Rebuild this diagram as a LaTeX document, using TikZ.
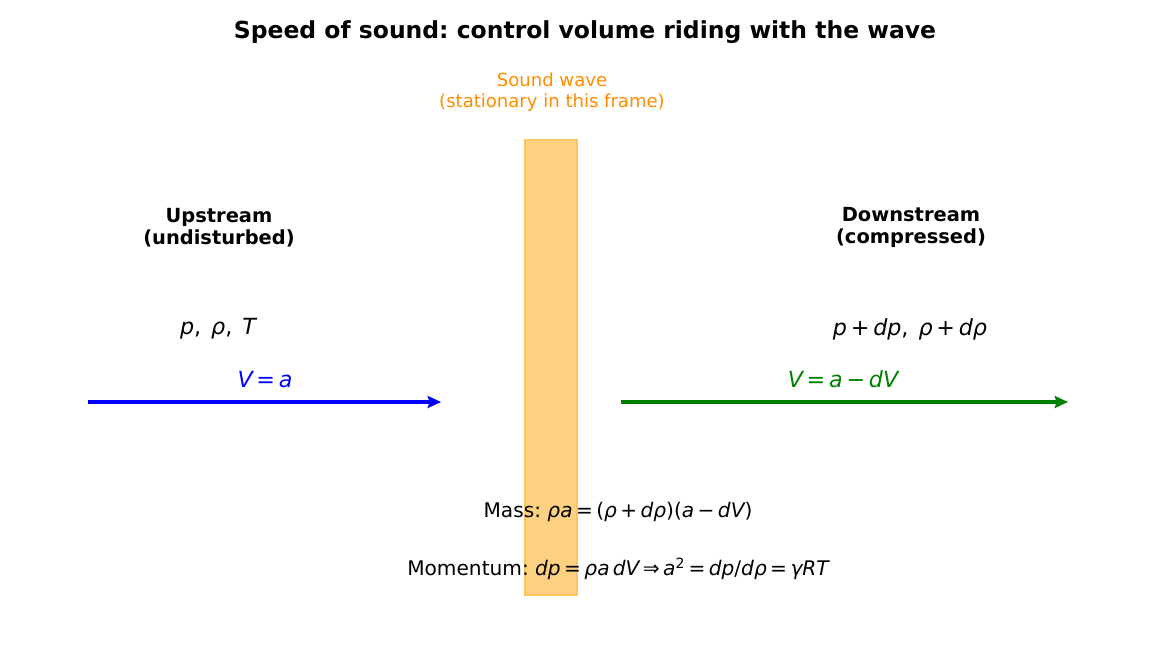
\documentclass[tikz,border=0pt]{standalone}
\usepackage{fontspec}
\setmainfont{DejaVu Sans}
\usetikzlibrary{arrows.meta}
\frenchspacing
\definecolor{waveorange}{RGB}{255,140,0}
\definecolor{wavefill}{RGB}{253,209,128}
\definecolor{waveedge}{RGB}{251,196,96}
\definecolor{mplgreen}{RGB}{0,128,0}
\definecolor{mplblue}{RGB}{0,0,255}
\newcommand{\mv}[1]{{\itshape #1}}
\newcommand{\bop}[1]{\hspace{0.17em}#1\hspace{0.17em}}
\tikzset{
  x=0.75pt, y=-0.75pt,
  titletext/.style={font=\fontsize{17.6}{20}\selectfont\bfseries, inner sep=0pt},
  regiontext/.style={font=\fontsize{14.58}{16.5}\selectfont\bfseries, align=center, inner sep=0pt},
  wavetext/.style={font=\fontsize{13.54}{15.6}\selectfont, text=waveorange, align=center, inner sep=0pt},
  stateText/.style={font=\fontsize{16.67}{20}\selectfont, inner sep=0pt},
  eqtext/.style={font=\fontsize{15.1}{17}\selectfont, inner sep=0pt},
  flowarrow/.style={line width=2.6pt, -{Stealth[length=10pt,width=9pt,inset=1.5pt]}},
}
\begin{document}
\begin{tikzpicture}
\useasboundingbox (0,0) rectangle (1170,650);
% wave band
\node[draw=waveedge, fill=wavefill, line width=1pt, minimum width=52*0.75pt, minimum height=455*0.75pt, inner sep=0pt] (wave) at (551,367.5) {};
% title
\node[titletext] (title) at (585,32) {Speed of sound: control volume riding with the wave};
\node[wavetext] (wavelbl) at (552,92) {Sound wave\\(stationary in this frame)};
\node[regiontext] (up) at (219,227.5) {Upstream\\(undisturbed)};
\node[regiontext] (down) at (911,227.5) {Downstream\\(compressed)};
\node[stateText] (upstate) at (218,329) {\mv{p},\hspace{0.45em}\mv{ρ},\hspace{0.45em}\mv{T}};
\node[stateText] (downstate) at (910,329) {\mv{p}\bop{+}\mv{dp},\hspace{0.45em}\mv{ρ}\bop{+}\mv{dρ}};
\node[stateText, text=mplblue] (uvel) at (265,379.5) {\mv{V}\bop{=}\mv{a}};
\node[stateText, text=mplgreen] (dvel) at (843,379.5) {\mv{V}\bop{=}\mv{a}\bop{−}\mv{dV}};
\coordinate (ua) at (88,402);
\coordinate (ub) at (441,402);
\coordinate (da) at (621,402);
\coordinate (db) at (1068,402);
\draw[flowarrow, mplblue] (ua) -- (ub);
\draw[flowarrow, mplgreen] (da) -- (db);
\node[eqtext] (mass) at (618,511.5) {Mass: \mv{ρa}\bop{=}(\mv{ρ}\bop{+}\mv{dρ})(\mv{a}\bop{−}\mv{dV})};
\node[eqtext] (mom) at (618,568.5) {Momentum: \mv{dp}\bop{=}\mv{ρa}\,\mv{dV}\bop{⇒}\mv{a}\textsuperscript{2}\bop{=}\mv{dp}/\mv{dρ}\bop{=}\mv{γRT}};
\end{tikzpicture}
\end{document}
